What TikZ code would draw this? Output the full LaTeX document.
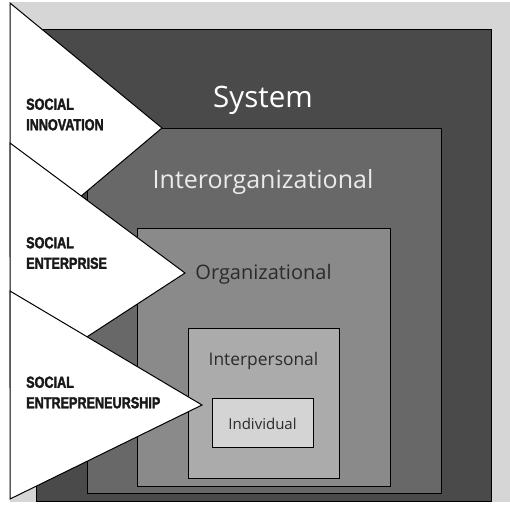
\documentclass[tikz,border=0pt]{standalone}
\usepackage{fontspec}
\setmainfont{Open Sans}
\newfontfamily\labelfont[BoldFeatures={FakeStretch=0.79,FakeBold=2}]{Liberation Sans}
\definecolor{bggray}{HTML}{D6D6D6}
\definecolor{sysgray}{HTML}{4A4A4A}
\definecolor{intergray}{HTML}{686868}
\definecolor{orggray}{HTML}{8A8A8A}
\definecolor{persgray}{HTML}{ABABAB}
\definecolor{indgray}{HTML}{D4D4D4}
\definecolor{darktext}{HTML}{2B2B2B}
\tikzset{
  level/.style={draw=black, line width=0.9pt},
  wedge/.style={fill=white, draw=black, line width=1pt, line join=miter},
  levelname/.style={anchor=base, inner sep=0pt},
  actname/.style={anchor=west, inner sep=0pt, align=left, text=black!90,
    font=\labelfont\bfseries\fontsize{16}{20.5}\selectfont}
}
\begin{document}
\begin{tikzpicture}[x=1pt,y=-1pt]
    \useasboundingbox (0,0) rectangle (510,504);
    \fill[bggray] (10,2) rectangle (510,502);
    % nested levels
    \filldraw[level, fill=sysgray] (36,29) rectangle (491,501);
    \filldraw[level, fill=intergray] (87,128) rectangle (441,493);
    \filldraw[level, fill=orggray] (137,228) rectangle (390,486);
    \filldraw[level, fill=persgray] (188,328) rectangle (339,478);
    \filldraw[level, fill=indgray] (212,398) rectangle (313,447);
    \node[levelname, text=white, font=\fontsize{29.5}{29.5}\selectfont] (system) at (263,107) {System};
    \node[levelname, text=white!92!black, font=\fontsize{25}{25}\selectfont] (interorg) at (263,188) {Interorganizational};
    \node[levelname, text=darktext, font=\fontsize{20}{20}\selectfont] (org) at (263.5,279) {Organizational};
    \node[levelname, text=darktext, font=\fontsize{17.4}{17.4}\selectfont] (interpers) at (263.5,365) {Interpersonal};
    \node[levelname, text=darktext, font=\fontsize{15}{15}\selectfont] (indiv) at (262.5,429) {Individual};
    % wedges
    \filldraw[wedge] (10,3)--(162,128)--(10,256)--cycle;
    \filldraw[wedge] (10,143)--(185,273)--(10,387)--cycle;
    \filldraw[wedge] (10,291)--(202,405)--(10,499)--cycle;
    \node[actname] (innov) at (26,114.5) {SOCIAL\\INNOVATION};
    \node[actname] (enterp) at (26,253) {SOCIAL\\ENTERPRISE};
    \node[actname] (entrep) at (26,392.5) {SOCIAL\\ENTREPRENEURSHIP};
\end{tikzpicture}
\end{document}
